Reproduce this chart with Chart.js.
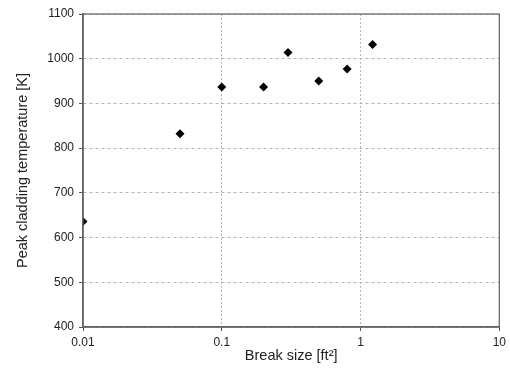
<!DOCTYPE html>
<html>
<head>
<meta charset="utf-8">
<script src="https://cdn.jsdelivr.net/npm/chart.js@4"></script>
<style>
  body { margin: 0; background: #fff; }
  canvas { display: block; }
</style>
</head>
<body>
<canvas id="chart" width="510" height="373"></canvas>
<script>
// Break size [ft2] and peak cladding temperature [K]
const breakSizes = [0.01, 0.05, 0.1, 0.2, 0.3, 0.5, 0.8, 1.22];
const peakTemps = [636, 832, 937, 937, 1014, 950, 977, 1032];
const xTicks = [0.01, 0.1, 1, 10];

// Draw the frame around the plot area
const framePlugin = {
  id: "frame",
  afterDraw(chart) {
    const { ctx, chartArea } = chart;
    ctx.save();
    ctx.strokeStyle = "#6a6a6a";
    ctx.lineWidth = 1.3;
    ctx.strokeRect(chartArea.left, chartArea.top, chartArea.right - chartArea.left, chartArea.bottom - chartArea.top);
    ctx.restore();
  },
};

const ctx = document.getElementById("chart").getContext("2d");
new Chart(ctx, {
  type: "scatter",
  data: {
    datasets: [
      {
        data: breakSizes.map((x, i) => ({ x: x, y: peakTemps[i] })),
        pointStyle: "rectRot",
        pointRadius: 4.5,
        backgroundColor: "#000",
        borderColor: "#000",
        borderWidth: 0,
      },
    ],
  },
  options: {
    responsive: false,
    animation: false,
    layout: { padding: { top: 14, right: 10, left: 10, bottom: 4 } },
    plugins: {
      legend: { display: false },
      tooltip: { enabled: false },
    },
    scales: {
      x: {
        type: "logarithmic",
        min: 0.01,
        max: 10,
        afterBuildTicks: (scale) => {
          scale.ticks = xTicks.map((v) => ({ value: v }));
        },
        afterFit: (scale) => {
          scale.height = 42;
        },
        ticks: {
          color: "#222",
          font: { family: "Liberation Sans", size: 12 },
          padding: 4,
          maxRotation: 0,
          callback: (v) => String(v),
        },
        grid: {
          color: "#b5b5b5",
          tickColor: "#555",
          tickLength: 4,
          tickBorderDash: [],
        },
        border: { color: "#555", width: 1.5, dash: [2, 2] },
        title: {
          display: true,
          text: "Break size [ft\u00b2]",
          color: "#222",
          font: { family: "Liberation Sans", size: 14.5 },
          padding: { top: 4 },
        },
      },
      y: {
        min: 400,
        max: 1100,
        afterFit: (scale) => {
          scale.width = 73;
        },
        ticks: {
          stepSize: 100,
          color: "#222",
          font: { family: "Liberation Sans", size: 12 },
          padding: 5,
          callback: (v) => String(v),
        },
        grid: {
          color: "#b5b5b5",
          tickColor: "#555",
          tickLength: 4,
          tickBorderDash: [],
        },
        border: { color: "#555", width: 1.5, dash: [3, 3] },
        title: {
          display: true,
          text: "Peak cladding temperature [K]",
          color: "#222",
          font: { family: "Liberation Sans", size: 14.5 },
          padding: { bottom: 6 },
        },
      },
    },
  },
  plugins: [framePlugin],
});
</script>
</body>
</html>
